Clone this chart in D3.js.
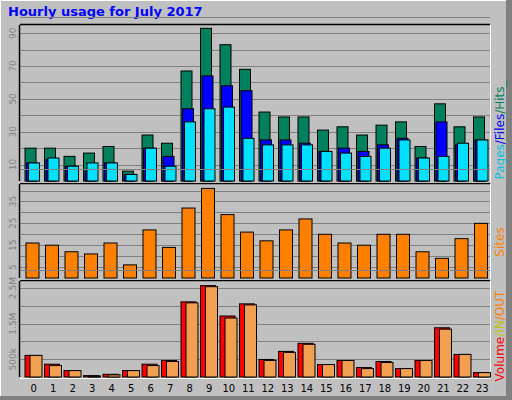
<!DOCTYPE html>
<html><head><meta charset="utf-8">
<script src="https://cdn.jsdelivr.net/npm/d3@7"></script>
<style>body{margin:0;background:#fff}text{font-family:"DejaVu Sans",sans-serif}</style>
</head><body><div id="chart"></div>
<script>
var hours = d3.range(24);
var hits  = [20,20,15,17,21,6,28,23,67,93,83,68,42,39,39,31,33,28,34,36,21,47,33,39];
var files = [11,13,9,6,11,4,20,15,44,64,58,55,25,25,23,18,20,18,22,26,14,36,22,25];
var pages = [11,14,9,11,11,4,20,9,36,44,45,26,22,22,22,18,17,15,20,25,14,15,23,25];
var sites = [16,15,12,11,16,6,22,14,32,41,29,21,17,22,27,20,16,15,20,20,12,9,18,25];
var volIn  = [607,360,180,38,76,180,360,464,2114,2569,1716,2057,493,720,948,351,464,265,436,237,464,1384,635,123];
var volOut = [607,322,180,30,60,180,322,436,2085,2540,1659,2028,465,692,920,351,464,237,408,237,464,1346,635,123];
var hitTicks = [10,30,50,70,90];
var siteTicks = [5,15,25,35];
var volTicks = [500,1500,2500];
var volLabels = {500:"500k",1500:"1.5M",2500:"2.5M"};

var W = 512, H = 400;
var svg = d3.select("#chart").append("svg").attr("width", W).attr("height", H);
svg.append("rect").attr("width", W).attr("height", H).attr("fill", "#c0c0c0");
svg.append("rect").attr("x", 0.5).attr("y", 0.5).attr("width", W-1).attr("height", H-1)
  .attr("fill", "none").attr("stroke", "#fff");
svg.append("rect").attr("x", 506).attr("y", 0).attr("width", 6).attr("height", H).attr("fill", "#808080");
svg.append("rect").attr("x", 0).attr("y", 396).attr("width", W).attr("height", 4).attr("fill", "#808080");
svg.append("text").attr("x", 8).attr("y", 16).text("Hourly usage for July 2017")
  .attr("fill", "#0000ff").attr("font-weight", "bold").attr("font-size", 13);

var x = d3.scaleBand().domain(hours).range([23, 491]);
var L = 20, R = 490;

function panel(top, bottom, maxv, ticks, fmt) {
  var y = d3.scaleLinear().domain([0, maxv]).range([bottom, top]);
  var g = svg.append("g");
  g.selectAll("line.grid").data(ticks.concat(d3.range(0, maxv, ticks[1]-ticks[0]).map(function(d){return d+ (ticks[1]-ticks[0])}))).enter()
    .append("line").attr("x1", L).attr("x2", R)
    .attr("y1", function(d){return Math.round(y(d))+0.5;}).attr("y2", function(d){return Math.round(y(d))+0.5;})
    .attr("stroke", "#808080");
  g.append("line").attr("x1", L).attr("x2", R).attr("y1", top-0.5).attr("y2", top-0.5).attr("stroke", "#000").attr("stroke-width", 1.5);
  g.append("line").attr("x1", L-0.5).attr("x2", L-0.5).attr("y1", top).attr("y2", bottom).attr("stroke", "#000").attr("stroke-width", 1.5);
  g.append("line").attr("x1", R+0.5).attr("x2", R+0.5).attr("y1", top).attr("y2", bottom+1).attr("stroke", "#fff");
  g.append("line").attr("x1", L).attr("x2", R).attr("y1", bottom+1.5).attr("y2", bottom+1.5).attr("stroke", "#fff");
  g.selectAll("text.tick").data(ticks).enter().append("text")
    .attr("transform", function(d){return "translate(16," + y(d) + ") rotate(-90)";})
    .attr("text-anchor", "middle").attr("font-size", 9).attr("fill", "#808080")
    .text(fmt || function(d){return d;});
  return y;
}

function bars(y, data, off, w, color) {
  svg.append("g").selectAll("rect").data(data).enter().append("rect")
    .attr("x", function(d, i){return x(i) + off;})
    .attr("y", function(d){return y(d);})
    .attr("width", w)
    .attr("height", function(d){return y(0) - y(d);})
    .attr("fill", color).attr("stroke", "#000").attr("stroke-width", 1);
}

var y1 = panel(25, 181, 95, hitTicks);
bars(y1, hits, 2, 11, "#00805c");
bars(y1, files, 3.5, 11, "#0000ff");
bars(y1, pages, 5.5, 11, "#00e0ff");

var y2 = panel(184, 278, 43, siteTicks);
bars(y2, sites, 3, 13, "#ff8000");

var y3 = panel(281, 377, 2700, volTicks, function(d){return volLabels[d];});
bars(y3, volIn, 2, 15, "#ff0000");
bars(y3, volOut, 7, 12, "#f0a050");

svg.append("g").selectAll("text").data(hours).enter().append("text")
  .attr("x", function(d){return x(d) + x.bandwidth()/2 + 1;}).attr("y", 392)
  .attr("text-anchor", "middle").attr("font-size", 10).attr("fill", "#000")
  .text(function(d){return d;});

function sideLabel(yc, parts) {
  var t = svg.append("text").attr("transform", "translate(504," + yc + ") rotate(-90)")
    .attr("text-anchor", "middle").attr("font-size", 12);
  parts.forEach(function(p){ t.append("tspan").attr("fill", p[1]).text(p[0]); });
}
sideLabel(130, [["Pages", "#00c0e0"], ["/Files", "#0000ff"], ["/Hits_", "#00805c"]]);
sideLabel(242, [["Sites", "#ff8000"]]);
sideLabel(336, [["Volume", "#ff0000"], ["/IN", "#c0c000"], ["/OUT", "#ff8000"]]);
</script></body></html>
